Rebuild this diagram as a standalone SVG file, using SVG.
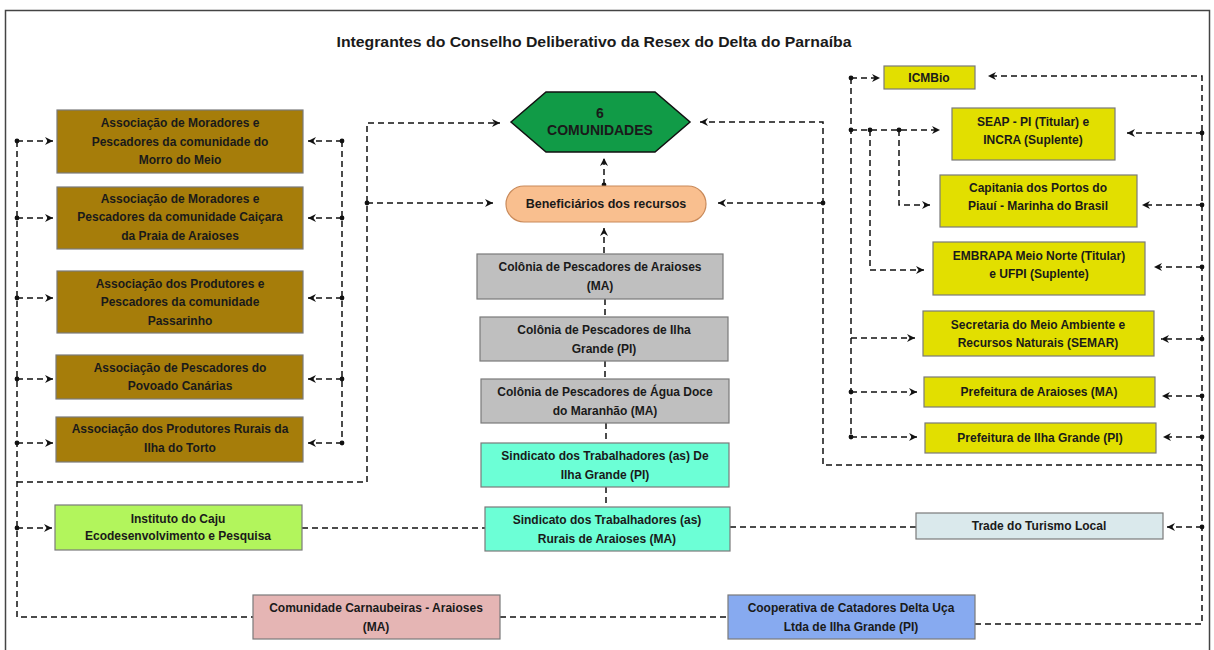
<svg xmlns="http://www.w3.org/2000/svg" width="1214" height="650" viewBox="0 0 1214 650">
<defs>
<marker id="arr" markerUnits="userSpaceOnUse" markerWidth="10" markerHeight="10" refX="8" refY="4" orient="auto">
<path d="M0,0 L8,4 L0,8 L2.5,4 Z" fill="#111"/>
</marker>
<marker id="dot" markerUnits="userSpaceOnUse" markerWidth="6" markerHeight="6" refX="3" refY="3">
<circle cx="3" cy="3" r="2.4" fill="#111"/>
</marker>
</defs>
<style>
text{font-family:"Liberation Sans",Arial,sans-serif;font-weight:bold;font-size:12px;fill:#1a1a1a;text-anchor:middle}
.title{font-size:14px}
.big{font-size:14px}
.box{stroke:#7a7a7a;stroke-width:1.2}
.brown{fill:#A67D0A}
.gray{fill:#BFBFBF}
.aqua{fill:#6CFFD6}
.yellow{fill:#E2DF00}
.c{fill:none;stroke:#111;stroke-width:1.5;stroke-dasharray:6 4}
.a{marker-end:url(#arr)}
.d{marker-start:url(#dot)}
.dd{marker-start:url(#dot);marker-end:url(#arr)}
</style>
<rect x="0" y="0" width="1214" height="650" fill="#fff"/>
<rect x="5.5" y="10.5" width="1204" height="660" fill="none" stroke="#444" stroke-width="1.5"/>
<text class="title" x="594" y="47" textLength="515" lengthAdjust="spacingAndGlyphs">Integrantes do Conselho Deliberativo da Resex do Delta do Parnaíba</text>

<g id="connectors">
<path class="c" d="M17,141 V617 H253"/>
<path class="c dd" d="M17,141 H53"/>
<path class="c dd" d="M17,218 H53"/>
<path class="c dd" d="M17,298 H53"/>
<path class="c dd" d="M17,379 H53"/>
<path class="c dd" d="M17,443 H53"/>
<path class="c dd" d="M17,528 H52"/>
<path class="c" d="M342,141 V443"/>
<path class="c dd" d="M342,141 H308"/>
<path class="c dd" d="M342,218 H308"/>
<path class="c dd" d="M342,298 H308"/>
<path class="c dd" d="M342,379 H308"/>
<path class="c dd" d="M342,443 H308"/>
<path class="c a" d="M17,482 H367 V123 H500"/>
<path class="c dd" d="M367,203 H493"/>
<path class="c dd" d="M604,185 V158"/>
<path class="c a" d="M604,253 V228"/>
<path class="c" d="M605,299 V317"/>
<path class="c" d="M605,361 V379"/>
<path class="c" d="M606,423 V443"/>
<path class="c" d="M606,487 V507"/>
<path class="c" d="M302,528 H485"/>
<path class="c" d="M730,527 H916"/>
<path class="c" d="M500,617 H728"/>
<path class="c a" d="M975,624 H1202 V76 H988"/>
<path class="c dd" d="M1202,133 H1127"/>
<path class="c dd" d="M1202,205 H1142"/>
<path class="c dd" d="M1202,267 H1154"/>
<path class="c dd" d="M1202,339 H1161"/>
<path class="c dd" d="M1202,396 H1162"/>
<path class="c dd" d="M1202,437 H1163"/>
<path class="c dd" d="M1202,527 H1167"/>
<path class="c a" d="M1202,465 H823 V122 H700"/>
<path class="c dd" d="M823,203 H718"/>
<path class="c" d="M851,78 V437"/>
<path class="c dd" d="M851,78 H880"/>
<path class="c dd" d="M851,130 H940"/>
<circle cx="870" cy="130" r="2.4" fill="#111"/>
<circle cx="899" cy="130" r="2.4" fill="#111"/>
<path class="c a" d="M899,130 V205 H930"/>
<path class="c a" d="M870,130 V270 H924"/>
<path class="c a" d="M851,338 H915"/>
<path class="c dd" d="M851,392 H917"/>
<path class="c dd" d="M851,437 H917"/>
</g>

<g id="n-morro"><rect class="box brown" x="57" y="110" width="246" height="63"/>
<text x="180" y="127">Associação de Moradores e</text><text x="180" y="146">Pescadores da comunidade do</text><text x="180" y="164">Morro do Meio</text></g>
<g id="n-caicara"><rect class="box brown" x="57" y="187" width="246" height="62"/>
<text x="180" y="203">Associação de Moradores e</text><text x="180" y="221">Pescadores da comunidade Caiçara</text><text x="180" y="240">da Praia de Araioses</text></g>
<g id="n-passarinho"><rect class="box brown" x="57" y="271" width="246" height="62"/>
<text x="180" y="288">Associação dos Produtores e</text><text x="180" y="306">Pescadores da comunidade</text><text x="180" y="325">Passarinho</text></g>
<g id="n-canarias"><rect class="box brown" x="56" y="355" width="247" height="44"/>
<text x="180" y="372">Associação de Pescadores do</text><text x="180" y="390">Povoado Canárias</text></g>
<g id="n-torto"><rect class="box brown" x="56" y="417" width="247" height="45"/>
<text x="180" y="433">Associação dos Produtores Rurais da</text><text x="180" y="452">Ilha do Torto</text></g>

<g id="n-comunidades"><polygon points="511,122 546,92 655,92 690,122 655,152 546,152" fill="#119B47" stroke="#111" stroke-width="1.5"/>
<text class="big" x="600" y="118">6</text><text class="big" x="600" y="135">COMUNIDADES</text></g>
<g id="n-beneficiarios"><rect x="506" y="186" width="200" height="36" rx="18" fill="#F9BF8F" stroke="#C98A5A" stroke-width="1.2"/>
<text x="606" y="208" style="font-size:12.5px">Beneficiários dos recursos</text></g>
<g id="n-col-araioses"><rect class="box gray" x="477" y="254" width="246" height="45"/>
<text x="600" y="271">Colônia de Pescadores de Araioses</text><text x="600" y="290">(MA)</text></g>
<g id="n-col-ilha"><rect class="box gray" x="480" y="317" width="248" height="44"/>
<text x="604" y="334">Colônia de Pescadores de Ilha</text><text x="604" y="353">Grande (PI)</text></g>
<g id="n-col-agua"><rect class="box gray" x="481" y="379" width="248" height="44"/>
<text x="605" y="396">Colônia de Pescadores de Água Doce</text><text x="605" y="415">do Maranhão (MA)</text></g>
<g id="n-sind-ilha"><rect class="box aqua" x="481" y="443" width="248" height="44"/>
<text x="605" y="460">Sindicato dos Trabalhadores (as) De</text><text x="605" y="479">Ilha Grande (PI)</text></g>
<g id="n-sind-rurais"><rect class="box aqua" x="485" y="507" width="245" height="44"/>
<text x="607" y="524">Sindicato dos Trabalhadores (as)</text><text x="607" y="543">Rurais de Araioses (MA)</text></g>

<g id="n-instituto"><rect class="box" fill="#B2F55C" x="55" y="505" width="247" height="45"/>
<text x="178" y="523">Instituto do Caju</text><text x="178" y="540">Ecodesenvolvimento e Pesquisa</text></g>
<g id="n-carnaubeiras"><rect class="box" fill="#E5B5B4" x="253" y="595" width="247" height="44"/>
<text x="376" y="612">Comunidade Carnaubeiras - Araioses</text><text x="376" y="631">(MA)</text></g>
<g id="n-cooperativa"><rect class="box" fill="#87AAF0" x="728" y="595" width="247" height="44"/>
<text x="851" y="612">Cooperativa de Catadores Delta Uça</text><text x="851" y="631">Ltda de Ilha Grande (PI)</text></g>
<g id="n-trade"><rect class="box" fill="#DAE9EC" x="916" y="513" width="247" height="26"/>
<text x="1039" y="530">Trade do Turismo Local</text></g>

<g id="n-icmbio"><rect class="box yellow" x="884" y="66" width="91" height="23"/>
<text x="929" y="82">ICMBio</text></g>
<g id="n-seap"><rect class="box yellow" x="952" y="108" width="163" height="52"/>
<text x="1033" y="126">SEAP - PI (Titular) e</text><text x="1033" y="144">INCRA (Suplente)</text></g>
<g id="n-capitania"><rect class="box yellow" x="940" y="175" width="197" height="52"/>
<text x="1038" y="192">Capitania dos Portos do</text><text x="1038" y="210">Piauí - Marinha do Brasil</text></g>
<g id="n-embrapa"><rect class="box yellow" x="933" y="242" width="212" height="53"/>
<text x="1039" y="260">EMBRAPA Meio Norte (Titular)</text><text x="1039" y="278">e UFPI (Suplente)</text></g>
<g id="n-semar"><rect class="box yellow" x="923" y="311" width="231" height="45"/>
<text x="1038" y="329">Secretaria do Meio Ambiente e</text><text x="1038" y="347">Recursos Naturais (SEMAR)</text></g>
<g id="n-pref-araioses"><rect class="box yellow" x="924" y="377" width="231" height="30"/>
<text x="1039" y="396">Prefeitura de Araioses (MA)</text></g>
<g id="n-pref-ilha"><rect class="box yellow" x="925" y="423" width="231" height="30"/>
<text x="1040" y="442">Prefeitura de Ilha Grande (PI)</text></g>
</svg>
